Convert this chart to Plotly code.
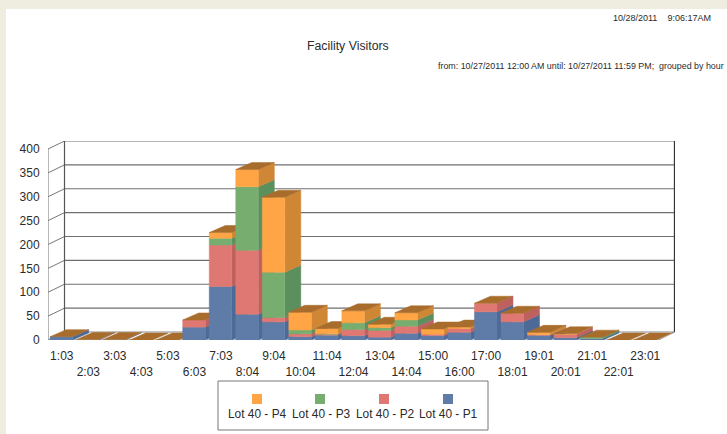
import plotly.graph_objects as go

categories = ["1:03", "2:03", "3:03", "4:03", "5:03", "6:03", "7:03", "8:04", "9:04", "10:04", "11:04", "12:04",
              "13:04", "14:04", "15:00", "16:00", "17:00", "18:01", "19:01", "20:01", "21:01", "22:01", "23:01"]
p1 = [7, 1, 1, 0, 0, 27, 112, 54, 38, 7, 10, 9, 6, 14, 9, 16, 59, 38, 10, 5, 3, 0, 0]
p2 = [0, 0, 0, 0, 0, 15, 87, 134, 9, 6, 2, 13, 14, 15, 3, 8, 18, 18, 1, 7, 0, 0, 0]
p3 = [0, 0, 0, 0, 0, 0, 14, 133, 95, 8, 1, 14, 6, 13, 0, 0, 0, 0, 0, 0, 3, 0, 0]
p4 = [0, 0, 0, 0, 0, 0, 12, 36, 157, 37, 11, 25, 7, 15, 11, 3, 0, 0, 5, 1, 0, 0, 0]
series_names = ["Lot 40 - P1", "Lot 40 - P2", "Lot 40 - P3", "Lot 40 - P4"]
front_colors = ["#5F7CA8", "#DF7873", "#77AE70", "#FFA545"]
side_colors = ["#4D6A96", "#BE615E", "#5C8F5E", "#CF8736"]
top_color = "#A86C2C"
y_ticks = [0, 50, 100, 150, 200, 250, 300, 350, 400]
title_text = "Facility Visitors"
stamp_text = "10/28/2011 &nbsp;&nbsp;&nbsp;9:06:17AM"
range_text = "from: 10/27/2011 12:00 AM until: 10/27/2011 11:59 PM;&nbsp; grouped by hour"

FONT = "Liberation Sans, Arial, sans-serif"
TEXT = "#2b2b2b"
W, H = 727, 434
L, R, T, B = 48, 675, 141, 340
n = len(categories)
unit_x = 26.52
unit_y = 0.4775
wall_dx = 16.5 / unit_x
wall_dy = 8 / unit_y
bar_dx = 16 / unit_x
bar_dy = 7 / unit_y
bar_l, bar_r = 0.08, 0.93

fig = go.Figure()


def poly(xs, ys, color, name):
    fig.add_trace(go.Scatter(x=xs, y=ys, mode="lines", fill="toself", fillcolor=color,
                             line=dict(color=color, width=0.5), showlegend=False,
                             hoverinfo="skip", name=name, cliponaxis=False))


def line(xs, ys, color, width=1.2):
    fig.add_trace(go.Scatter(x=xs, y=ys, mode="lines", line=dict(color=color, width=width),
                             showlegend=False, hoverinfo="skip", cliponaxis=False))


# back wall grid
for v in y_ticks[1:]:
    line([wall_dx, n + wall_dx], [v + wall_dy, v + wall_dy], "#6f6f6f")
for v in y_ticks:
    line([0, wall_dx], [v, v + wall_dy], "#777777", 1)
line([wall_dx, wall_dx], [wall_dy, y_ticks[-1] + wall_dy], "#555555")
line([0, 0], [0, y_ticks[-1]], "#888888")
line([n + wall_dx, n + wall_dx], [wall_dy, y_ticks[-1] + wall_dy], "#333333")
line([wall_dx, n + wall_dx], [wall_dy, wall_dy], "#888888")
line([n, n + wall_dx], [0, wall_dy], "#888888")
line([0, n], [0, 0], "#a0a0a0")

# bars, painted left to right
stacks = [p1, p2, p3, p4]
for i in range(n):
    x0, x1 = i + bar_l, i + bar_r
    base = 0
    for s in range(4):
        v = stacks[s][i]
        if v <= 0:
            continue
        top = base + v
        poly([x1, x1 + bar_dx, x1 + bar_dx, x1, x1],
             [base, base + bar_dy, top + bar_dy, top, base], side_colors[s], series_names[s])
        poly([x0, x1, x1, x0, x0], [base, base, top, top, base], front_colors[s], series_names[s])
        base = top
    if base == 0:
        line([x1, x1 + bar_dx], [0.5, bar_dy], "#d5d5d5", 1.5)
    poly([x0, x1, x1 + bar_dx, x0 + bar_dx, x0],
         [base, base, base + bar_dy, base + bar_dy, base], top_color, "top")

ticktext = [c if i % 2 == 0 else "<br>" + c for i, c in enumerate(categories)]


def px(x):
    return (x - L) / (R - L)


def py(y):
    return (B - y) / (B - T)


shapes = [
    dict(type="rect", xref="paper", yref="paper", x0=px(0), x1=px(W),
         y0=py(9), y1=py(0), line_width=0, fillcolor="#EFEDE0", layer="below"),
    dict(type="rect", xref="paper", yref="paper", x0=px(0), x1=px(6),
         y0=py(H), y1=py(0), line_width=0, fillcolor="#EFEDE0", layer="below"),
    dict(type="rect", xref="paper", yref="paper", x0=px(218), x1=px(488),
         y0=py(430), y1=py(381), line=dict(color="#777777", width=1),
         fillcolor="rgba(0,0,0,0)"),
]

annotations = [
    dict(text=title_text, x=px(348), y=py(46), font=dict(size=12.3)),
    dict(text=stamp_text, x=px(713), y=py(18), xanchor="right", font=dict(size=9)),
    dict(text=range_text, x=px(726), y=py(66), xanchor="right", font=dict(size=8.9)),
]
legend_x = [257, 320, 384, 448]
for k, s in enumerate([3, 2, 1, 0]):
    cx = legend_x[k]
    shapes.append(dict(type="rect", xref="paper", yref="paper", x0=px(cx - 5), x1=px(cx + 5),
                       y0=py(404), y1=py(394), line_width=0, fillcolor=front_colors[s]))
    annotations.append(dict(text=series_names[s], x=px(cx + (1 if k in (1, 2) else 0)), y=py(414), font=dict(size=11.9)))
for a in annotations:
    a.update(xref="paper", yref="paper", showarrow=False, xanchor=a.get("xanchor", "center"), yanchor="middle")
    a["font"].update(family=FONT, color=TEXT)

fig.update_layout(
    width=W, height=H, margin=dict(l=L, r=W - R, t=T, b=H - B, pad=0),
    paper_bgcolor="white", plot_bgcolor="rgba(0,0,0,0)",
    font=dict(family=FONT, size=12, color=TEXT), showlegend=False,
    xaxis=dict(range=[0, (R - L) / unit_x], tickmode="array", tickvals=[i + 0.52 for i in range(n)],
               ticktext=ticktext, tickangle=0, showgrid=False, zeroline=False, showline=False,
               ticks="outside", ticklen=5, tickcolor="rgba(0,0,0,0)", fixedrange=True),
    yaxis=dict(range=[0, (B - T) / unit_y], tickmode="array", tickvals=y_ticks,
               showgrid=False, zeroline=False, showline=False,
               ticks="outside", ticklen=5, tickcolor="rgba(0,0,0,0)", fixedrange=True),
    shapes=shapes, annotations=annotations,
)
fig.write_html("out.html", config={"displayModeBar": False},
               post_script="document.body.style.margin='0';document.body.style.overflow='hidden';")
